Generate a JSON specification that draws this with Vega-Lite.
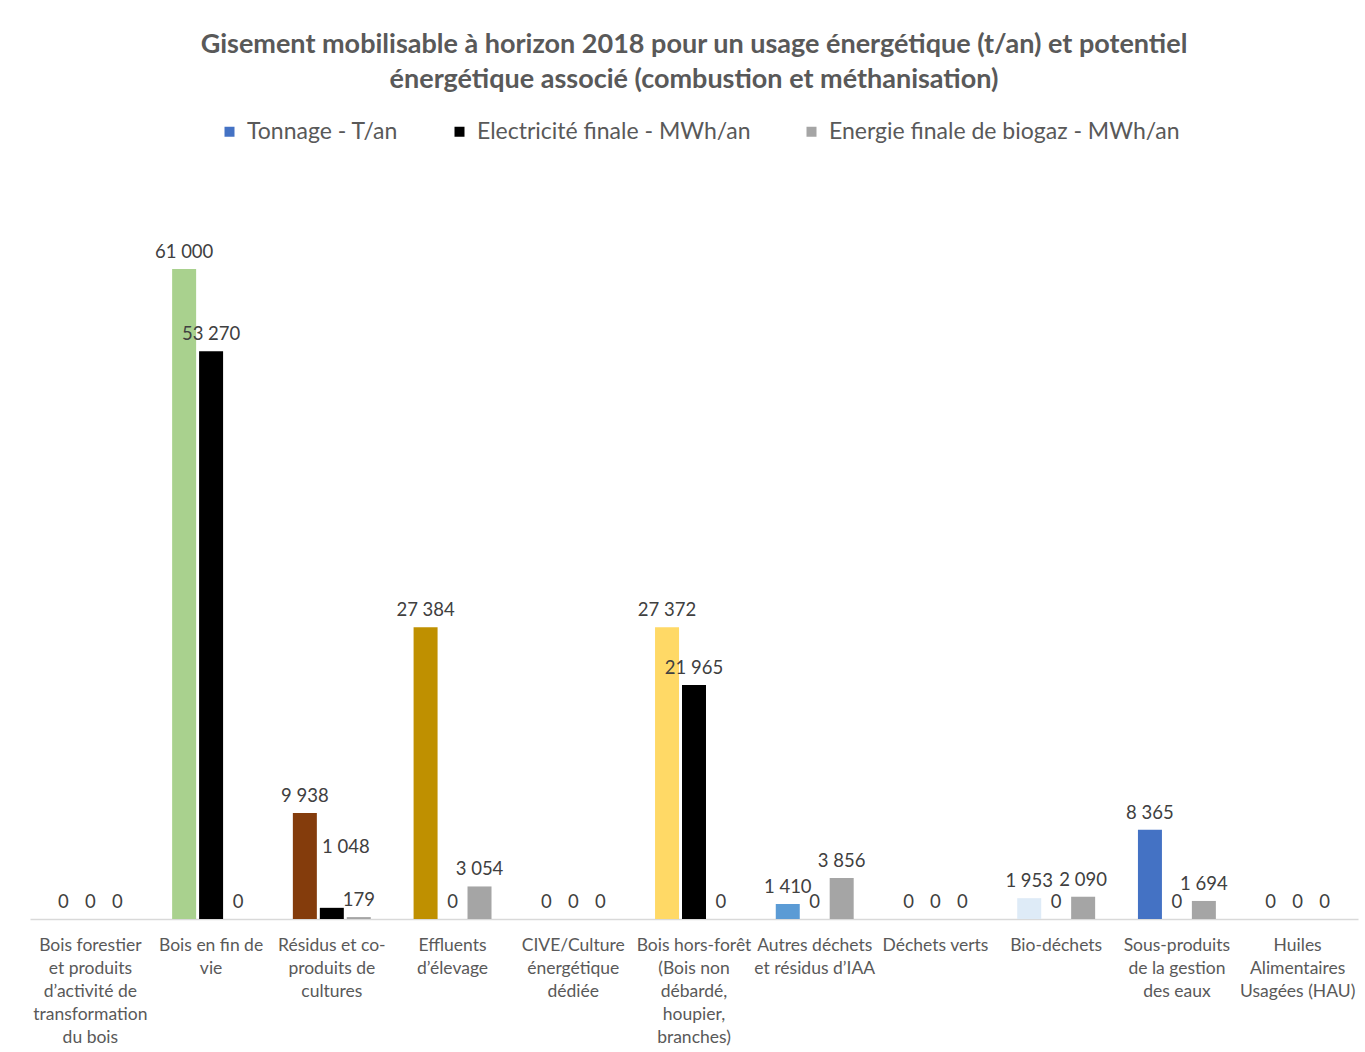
{
  "$schema": "https://vega.github.io/schema/vega-lite/v6.json",
  "width": 1328,
  "height": 746,
  "autosize": {"type": "none"},
  "padding": {"left": 30, "top": 173, "right": 7, "bottom": 133},
  "background": "white",
  "title": {
    "text": ["Gisement mobilisable à horizon 2018 pour un usage énergétique (t/an) et potentiel", "énergétique associé (combustion et méthanisation)"],
    "font": "Lato",
    "fontSize": 27,
    "fontWeight": "bold",
    "color": "#595959",
    "anchor": "middle",
    "frame": "group",
    "lineHeight": 35,
    "offset": 26
  },
  "data": {
    "values": [
      {"categorie": "Bois forestier et produits d’activité de transformation du bois", "serie": "Tonnage - T/an", "valeur": 0},
      {"categorie": "Bois forestier et produits d’activité de transformation du bois", "serie": "Electricité finale - MWh/an", "valeur": 0},
      {"categorie": "Bois forestier et produits d’activité de transformation du bois", "serie": "Energie finale de biogaz - MWh/an", "valeur": 0},
      {"categorie": "Bois en fin de vie", "serie": "Tonnage - T/an", "valeur": 61000},
      {"categorie": "Bois en fin de vie", "serie": "Electricité finale - MWh/an", "valeur": 53270},
      {"categorie": "Bois en fin de vie", "serie": "Energie finale de biogaz - MWh/an", "valeur": 0},
      {"categorie": "Résidus et co-produits de cultures", "serie": "Tonnage - T/an", "valeur": 9938},
      {"categorie": "Résidus et co-produits de cultures", "serie": "Electricité finale - MWh/an", "valeur": 1048},
      {"categorie": "Résidus et co-produits de cultures", "serie": "Energie finale de biogaz - MWh/an", "valeur": 179},
      {"categorie": "Effluents d’élevage", "serie": "Tonnage - T/an", "valeur": 27384},
      {"categorie": "Effluents d’élevage", "serie": "Electricité finale - MWh/an", "valeur": 0},
      {"categorie": "Effluents d’élevage", "serie": "Energie finale de biogaz - MWh/an", "valeur": 3054},
      {"categorie": "CIVE/Culture énergétique dédiée", "serie": "Tonnage - T/an", "valeur": 0},
      {"categorie": "CIVE/Culture énergétique dédiée", "serie": "Electricité finale - MWh/an", "valeur": 0},
      {"categorie": "CIVE/Culture énergétique dédiée", "serie": "Energie finale de biogaz - MWh/an", "valeur": 0},
      {"categorie": "Bois hors-forêt (Bois non débardé, houpier, branches)", "serie": "Tonnage - T/an", "valeur": 27372},
      {"categorie": "Bois hors-forêt (Bois non débardé, houpier, branches)", "serie": "Electricité finale - MWh/an", "valeur": 21965},
      {"categorie": "Bois hors-forêt (Bois non débardé, houpier, branches)", "serie": "Energie finale de biogaz - MWh/an", "valeur": 0},
      {"categorie": "Autres déchets et résidus d’IAA", "serie": "Tonnage - T/an", "valeur": 1410},
      {"categorie": "Autres déchets et résidus d’IAA", "serie": "Electricité finale - MWh/an", "valeur": 0},
      {"categorie": "Autres déchets et résidus d’IAA", "serie": "Energie finale de biogaz - MWh/an", "valeur": 3856},
      {"categorie": "Déchets verts", "serie": "Tonnage - T/an", "valeur": 0},
      {"categorie": "Déchets verts", "serie": "Electricité finale - MWh/an", "valeur": 0},
      {"categorie": "Déchets verts", "serie": "Energie finale de biogaz - MWh/an", "valeur": 0},
      {"categorie": "Bio-déchets", "serie": "Tonnage - T/an", "valeur": 1953},
      {"categorie": "Bio-déchets", "serie": "Electricité finale - MWh/an", "valeur": 0},
      {"categorie": "Bio-déchets", "serie": "Energie finale de biogaz - MWh/an", "valeur": 2090},
      {"categorie": "Sous-produits de la gestion des eaux", "serie": "Tonnage - T/an", "valeur": 8365},
      {"categorie": "Sous-produits de la gestion des eaux", "serie": "Electricité finale - MWh/an", "valeur": 0},
      {"categorie": "Sous-produits de la gestion des eaux", "serie": "Energie finale de biogaz - MWh/an", "valeur": 1694},
      {"categorie": "Huiles Alimentaires Usagées (HAU)", "serie": "Tonnage - T/an", "valeur": 0},
      {"categorie": "Huiles Alimentaires Usagées (HAU)", "serie": "Electricité finale - MWh/an", "valeur": 0},
      {"categorie": "Huiles Alimentaires Usagées (HAU)", "serie": "Energie finale de biogaz - MWh/an", "valeur": 0}
    ]
  },
  "encoding": {
    "x": {
      "field": "categorie",
      "type": "nominal",
      "sort": null,
      "title": null,
      "scale": {"paddingInner": 0.33, "paddingOuter": 0.165},
      "axis": {
        "labelAngle": 0,
        "ticks": false,
        "domainColor": "#D9D9D9",
        "domainWidth": 1.5,
        "labelFont": "Lato",
        "labelFontSize": 17.5,
        "labelColor": "#595959",
        "labelPadding": 17,
        "labelLineHeight": 23,
        "labelLimit": 200,
        "labelExpr": "datum.value == 'Bois forestier et produits d’activité de transformation du bois' ? ['Bois forestier', 'et produits', 'd’activité de', 'transformation', 'du bois'] : datum.value == 'Bois en fin de vie' ? ['Bois en fin de', 'vie'] : datum.value == 'Résidus et co-produits de cultures' ? ['Résidus et co-', 'produits de', 'cultures'] : datum.value == 'Effluents d’élevage' ? ['Effluents', 'd’élevage'] : datum.value == 'CIVE/Culture énergétique dédiée' ? ['CIVE/Culture', 'énergétique', 'dédiée'] : datum.value == 'Bois hors-forêt (Bois non débardé, houpier, branches)' ? ['Bois hors-forêt', '(Bois non', 'débardé,', 'houpier,', 'branches)'] : datum.value == 'Autres déchets et résidus d’IAA' ? ['Autres déchets', 'et résidus d’IAA'] : datum.value == 'Sous-produits de la gestion des eaux' ? ['Sous-produits', 'de la gestion', 'des eaux'] : datum.value == 'Huiles Alimentaires Usagées (HAU)' ? ['Huiles', 'Alimentaires', 'Usagées (HAU)'] : datum.value"
      }
    },
    "xOffset": {
      "field": "serie",
      "type": "nominal",
      "scale": {"domain": ["Tonnage - T/an", "Electricité finale - MWh/an", "Energie finale de biogaz - MWh/an"], "paddingInner": 0.11, "paddingOuter": 0.055}
    },
    "y": {
      "field": "valeur",
      "type": "quantitative",
      "scale": {"domain": [0, 70000]},
      "axis": null
    }
  },
  "layer": [
    {
      "transform": [{"filter": "datum.serie != 'Tonnage - T/an'"}],
      "mark": {"type": "bar"},
      "encoding": {
        "color": {
          "field": "serie",
          "type": "nominal",
          "scale": {"domain": ["Tonnage - T/an", "Electricité finale - MWh/an", "Energie finale de biogaz - MWh/an"], "range": ["#4472C4", "#000000", "#A5A5A5"]},
          "legend": {
            "title": null,
            "orient": "none",
            "direction": "horizontal",
            "legendX": 188,
            "legendY": -53,
            "symbolType": "square",
            "symbolSize": 100,
            "symbolStrokeWidth": 0,
            "labelFont": "Lato",
            "labelFontSize": 23,
            "labelColor": "#595959",
            "labelOffset": 6,
            "columnPadding": 49,
            "labelLimit": 500
          }
        }
      }
    },
    {
      "transform": [{"filter": "datum.serie == 'Tonnage - T/an'"}],
      "mark": {"type": "bar"},
      "encoding": {
        "color": {
          "field": "categorie",
          "type": "nominal",
          "scale": {
            "domain": ["Bois forestier et produits d’activité de transformation du bois", "Bois en fin de vie", "Résidus et co-produits de cultures", "Effluents d’élevage", "CIVE/Culture énergétique dédiée", "Bois hors-forêt (Bois non débardé, houpier, branches)", "Autres déchets et résidus d’IAA", "Déchets verts", "Bio-déchets", "Sous-produits de la gestion des eaux", "Huiles Alimentaires Usagées (HAU)"],
            "range": ["#70AD47", "#A9D18E", "#843C0C", "#BF9000", "#548235", "#FFD966", "#5B9BD5", "#70AD47", "#DEEBF7", "#4472C4", "#FFC000"]
          },
          "legend": null
        }
      }
    },
    {
      "transform": [{"filter": "!(datum.categorie == 'Résidus et co-produits de cultures' && datum.serie == 'Electricité finale - MWh/an')"}],
      "mark": {"type": "text", "baseline": "alphabetic", "dy": -11, "font": "Lato", "fontSize": 18.5, "color": "#404040"},
      "encoding": {
        "text": {"field": "valeur", "type": "quantitative", "format": ",d"}
      }
    },
    {
      "transform": [{"filter": "datum.categorie == 'Résidus et co-produits de cultures' && datum.serie == 'Electricité finale - MWh/an'"}],
      "mark": {"type": "text", "baseline": "alphabetic", "dy": -55, "dx": 14, "font": "Lato", "fontSize": 18.5, "color": "#404040"},
      "encoding": {
        "text": {"field": "valeur", "type": "quantitative", "format": ",d"}
      }
    }
  ],
  "resolve": {"scale": {"color": "independent"}},
  "config": {
    "view": {"stroke": null},
    "locale": {"number": {"decimal": ",", "thousands": " ", "grouping": [3], "currency": ["", " €"]}}
  }
}
